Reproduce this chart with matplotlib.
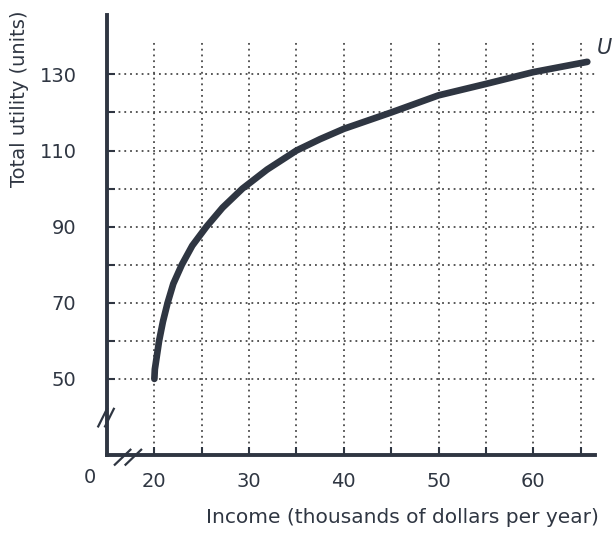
import matplotlib.pyplot as plt
from matplotlib.ticker import MultipleLocator, FixedLocator

# curve: income (thousands $) vs total utility (units)
income = [20, 20.05, 20.2, 20.5, 20.9, 21.4, 22.0, 22.9, 24.0, 25.5, 27.2, 29.3,
          31.9, 35.0, 37.5, 40.0, 45.0, 50.0, 55.0, 60.0, 65.7]
utility = [50, 52.5, 55, 60, 65, 70, 75, 80, 85, 90, 95, 100,
           105, 110, 113, 115.7, 120, 124.5, 127.5, 130.6, 133.3]

x_labels = [20, 30, 40, 50, 60]
y_labels = [50, 70, 90, 110, 130]
x_grid = [20, 25, 30, 35, 40, 45, 50, 55, 60, 65]
y_grid = [50, 60, 70, 80, 90, 100, 110, 120, 130]

ink = '#2f3642'
plt.rcParams['font.family'] = ['DejaVu Sans']

fig = plt.figure(figsize=(6.16, 5.33), dpi=100)
ax = fig.add_axes([0.1737, 0.1463, 0.792, 0.8255])
ax.set_xlim(15, 66.5)
ax.set_ylim(30, 145.6)

# dotted grid
ax.vlines(x_grid, 30, 139, colors='#4a4a4a', linestyles=(0, (1, 2.2)), linewidth=1.3, zorder=1)
ax.hlines(y_grid, 15, 66.5, colors='#4a4a4a', linestyles=(0, (1, 2.2)), linewidth=1.3, zorder=1)

ax.plot(income, utility, color=ink, lw=4.8, solid_capstyle='round', solid_joinstyle='round', zorder=3)
ax.text(66.7, 137.0, 'U', fontsize=15, style='italic', color=ink, ha='left', va='center')

for s in ['top', 'right']:
    ax.spines[s].set_visible(False)
for s in ['left', 'bottom']:
    ax.spines[s].set_linewidth(2.8)
    ax.spines[s].set_color(ink)

ax.xaxis.set_major_locator(FixedLocator(x_labels))
ax.yaxis.set_major_locator(FixedLocator(y_labels))
ax.xaxis.set_minor_locator(MultipleLocator(5))
ax.yaxis.set_minor_locator(FixedLocator([60, 80, 100, 120]))
ax.tick_params(which='both', direction='in', length=6, width=1.5, color=ink, labelcolor=ink)
ax.tick_params(axis='x', which='major', labelsize=14, pad=12)
ax.tick_params(axis='y', which='major', labelsize=14, pad=22)

ax.set_xlabel('Income (thousands of dollars per year)', fontsize=14.5, color=ink)
ax.xaxis.set_label_coords(0.605, -0.12)
ax.set_ylabel('Total utility (units)', fontsize=14, color=ink)
ax.yaxis.set_label_coords(-0.16, 0.81)

ax.text(-0.035, -0.052, '0', transform=ax.transAxes, fontsize=14, color=ink,
        ha='center', va='center')

# axis break marks
for dx in (0, 0.014):
    ax.plot([-0.018 + dx, 0.0 + dx], [0.065, 0.105], transform=ax.transAxes,
            color=ink, lw=1.6, clip_on=False)
for dx in (0, 0.022):
    ax.plot([0.016 + dx, 0.048 + dx], [-0.022, 0.012], transform=ax.transAxes,
            color=ink, lw=1.6, clip_on=False)

fig.savefig('out.png', dpi=100)
